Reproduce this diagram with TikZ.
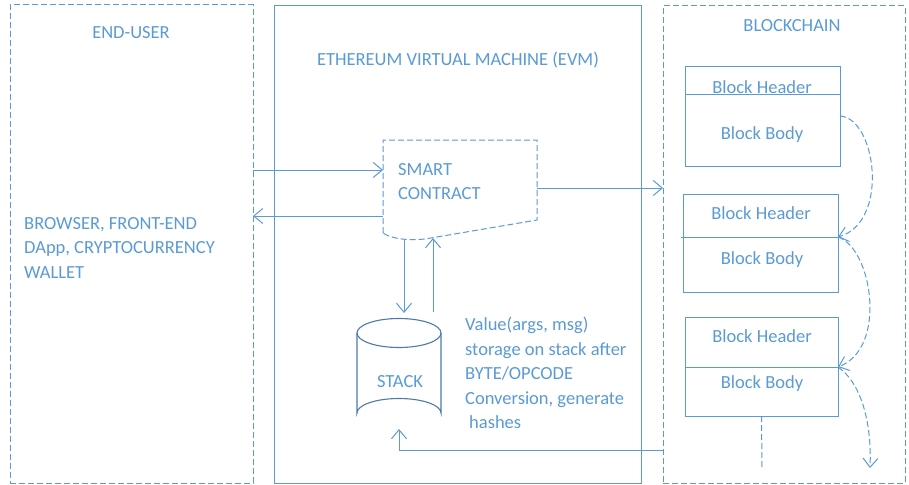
\documentclass[tikz,border=0pt]{standalone}
\usepackage{fontspec}
\setmainfont{Carlito}
\usetikzlibrary{arrows.meta}
\definecolor{cblue}{HTML}{5B9BD5}
\definecolor{cdark}{HTML}{4A7AAE}
\begin{document}
\begin{tikzpicture}[x=1pt,y=-1pt,
  ln/.style={draw=cblue, line width=1pt},
  dsh/.style={ln, dash pattern=on 6pt off 3pt},
  txt/.style={text=cblue, font=\fontsize{18.5}{24.5}\selectfont, inner sep=0pt},
  arr/.style={ln, -{Straight Barb[length=9pt,width=15pt]}},
  darr/.style={dsh, -{Straight Barb[length=9pt,width=15pt]}},
  box/.style={inner sep=0pt, outer sep=0pt, minimum width=#1},
  blk/.style={ln, inner sep=0pt, outer sep=0pt, minimum width=155pt}]
\useasboundingbox (0,0) rectangle (909,484);
\fill[white] (0,0) rectangle (909,484);

% columns
\node[dsh, box=243pt, minimum height=478pt] (eu) at (131.5,244) {};
\node[ln, box=367pt, minimum height=477pt] (evm) at (457.5,244.5) {};
\node[dsh, box=242pt, minimum height=477pt] (bc) at (784,244.5) {};

\node[txt] (eut) at (131,33) {END-USER};
\node[txt] (evmt) at (458,60) {ETHEREUM VIRTUAL MACHINE (EVM)};
\node[txt] (bct) at (792,26) {BLOCKCHAIN};

\node[txt, anchor=north west, align=left] (user) at (24,217)
  {BROWSER, FRONT-END\\DApp, CRYPTOCURRENCY\\WALLET};

% smart contract
\coordinate (scTL) at (383,140);
\coordinate (scTR) at (537,140);
\coordinate (scBR) at (537,220);
\coordinate (scBM) at (425,239);
\coordinate (scBL) at (383,233);
\draw[dsh] (scBL) -- (scTL) -- (scTR) -- (scBR) -- (scBM)
  .. controls (405,241) and (390,238) .. (scBL);
\node[txt, anchor=north west, align=left] (sc) at (398,163) {SMART\\CONTRACT};

\coordinate (in1) at (eu.east |- 0,170);
\coordinate (in2) at (scTL |- 0,170);
\draw[arr] (in1) -- (in2);
\coordinate (out1) at (scTL |- 0,216);
\coordinate (out2) at (eu.east |- 0,216);
\draw[arr] (out1) -- (out2);
\coordinate (bo1) at (scBR |- 0,188);
\coordinate (bo2) at (bc.west |- 0,188);
\draw[arr] (bo1) -- (bo2);

% stack
\coordinate (stTop) at (399,333);
\draw[draw=cdark, line width=1.1pt] (357,333) -- (357,413) arc[start angle=180, end angle=360, x radius=42, y radius=14.5] -- (441,333);
\draw[draw=cdark, line width=1.1pt] (stTop) ellipse[x radius=42, y radius=14.5];
\node[txt] (stack) at (400,382) {STACK};

\coordinate (d1) at (404,240);
\coordinate (d2) at (404,313);
\draw[arr] (d1) -- (d2);
\coordinate (u1) at (433,312);
\coordinate (u2) at (433,238);
\draw[arr] (u1) -- (u2);

\coordinate (bk1) at (bc.west |- 0,450);
\coordinate (bk2) at (399,450);
\coordinate (bk3) at (399,429);
\draw[arr] (bk1) -- (bk2) -- (bk3);

\node[txt, anchor=north west, align=left] (val) at (465,317)
  {Value(args, msg)\\storage on stack after\\BYTE/OPCODE\\Conversion, generate\\\hspace*{4pt}hashes};

% blocks
\node[blk, minimum height=28pt] (h1) at (762.5,81) {};
\node[blk, minimum height=71pt] (b1) at (762.5,130.5) {};
\node[txt] (h1t) at (762,87) {Block Header};
\node[txt] (b1t) at (762,135) {Block Body};

\node[blk, minimum height=43pt] (h2) at (760.5,215.5) {};
\node[blk, minimum height=55pt] (b2) at (760.5,264.5) {};
\draw[ln] (681,237) -- (h2.south west);
\node[txt] (h2t) at (761,213) {Block Header};
\node[txt] (b2t) at (762,260) {Block Body};

\node[blk, minimum height=50pt, minimum width=153pt] (h3) at (761.5,342) {};
\node[blk, minimum height=49pt, minimum width=153pt] (b3) at (761.5,391.5) {};
\node[txt] (h3t) at (762,336) {Block Header};
\node[txt] (b3t) at (762,384) {Block Body};

\coordinate (tail) at (762,468);
\draw[dsh] (b3.south) -- (tail);

\coordinate (c1s) at (b1.east |- 0,116);
\coordinate (c1e) at (h2.south east);
\draw[darr] (c1s) .. controls (876,118) and (890,222) .. (c1e);
\coordinate (c2e) at (h3.south east);
\draw[darr] (c1e) .. controls (872,248) and (888,348) .. (c2e);
\coordinate (c3e) at (870,468);
\draw[darr] (c2e) .. controls (860,382) and (872,420) .. (c3e);
\end{tikzpicture}
\end{document}
